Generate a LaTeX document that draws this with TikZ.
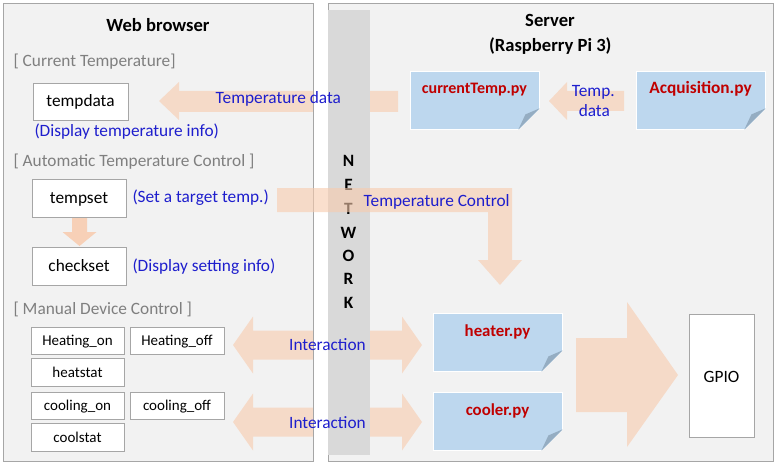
\documentclass[tikz,border=0pt]{standalone}
\usepackage{fontspec}
\setmainfont{Carlito}
\usetikzlibrary{calc}
\definecolor{panelbg}{HTML}{F2F2F2}
\definecolor{panelline}{HTML}{A6A6A6}
\definecolor{barc}{HTML}{D9D9D9}
\definecolor{peach}{HTML}{F8CBAD}
\definecolor{notec}{HTML}{BDD7EE}
\definecolor{foldc}{HTML}{95ADC2}
\definecolor{txtblue}{RGB}{30,30,205}
\definecolor{txtred}{HTML}{C00000}
\definecolor{txtgray}{HTML}{7F7F7F}
\definecolor{boxline}{HTML}{A6A6A6}
\newcommand\fsz[1]{\fontsize{#1}{#1}\selectfont}
\tikzset{
  titletxt/.style={font=\fsz{18.6}\bfseries, anchor=base, inner sep=0},
  sectiontxt/.style={font=\fsz{17.3}, text=txtgray, anchor=base west, inner sep=0},
  bluetxt/.style={font=\fsz{17.3}, text=txtblue, inner sep=0},
  wbox/.style={draw=boxline, fill=white, line width=0.8pt, inner sep=0, font=\fsz{17.3}, text height=12pt, text depth=2pt},
  sbox/.style={wbox, font=\fsz{15}, text height=11pt, text depth=1pt},
  notebox/.style={fill=notec, draw=white, line width=0.8pt, inner sep=0, minimum width=129pt, text height=23pt, text depth=35pt, font=\fsz{16.8}\bfseries, text=txtred},
  blockarrow/.style={fill=peach, fill opacity=0.6},
  netletter/.style={font=\fsz{17.3}\bfseries, anchor=base, inner sep=0},
  panel/.style={draw=panelline, line width=0.9pt},
}
\begin{document}
\begin{tikzpicture}[x=1pt,y=-1pt]
\useasboundingbox (0,0) rectangle (778,465);
\fill[white] (0,0) rectangle (778,465);
% panel backgrounds
\fill[panelbg] (3,3) rectangle (313,461);
\fill[panelbg] (328,3) rectangle (773,461);

% arrows under the network bar
\fill[blockarrow] (159,101) -- (179,82) -- (179,91) -- (398,91) -- (398,112) -- (179,112) -- (179,120) -- cycle;
\fill[blockarrow] (549,101) -- (567,82) -- (567,91) -- (624,91) -- (624,111) -- (567,111) -- (567,120) -- cycle;
\foreach \cy in {345,422}{
  \fill[blockarrow] (233,\cy) -- (253,\cy-28.5) -- (253,\cy-14.5) -- (402,\cy-14.5) -- (402,\cy-28.5)
     -- (422,\cy) -- (402,\cy+28.5) -- (402,\cy+14.5) -- (253,\cy+14.5) -- (253,\cy+28.5) -- cycle;
}
\fill[blockarrow] (576,338) -- (627,338) -- (627,302) -- (678,375) -- (627,447) -- (627,412) -- (576,412) -- cycle;
\fill[peach, fill opacity=0.85] (72,217) -- (87,217) -- (87,232) -- (96.5,232) -- (79.5,246) -- (62.5,232) -- (72,232) -- cycle;

% gap between panels and panel borders
\fill[white] (313.5,0) rectangle (327.5,465);
\draw[panel] (3,3) rectangle (313,461);
\draw[panel] (328,3) rectangle (773,461);
% network bar
\fill[barc] (328,10) rectangle (370,455);
\foreach \l/\y in {N/167,E/190,T/214,W/238,O/261,R/284,K/308}
  \node[netletter] (net\l) at (348.5,\y) {\l};

% temperature control bent arrow (over the bar)
\fill[blockarrow] (277,188) -- (512,188) -- (512,260) -- (522,260) -- (500,285) -- (478,260) -- (488,260) -- (488,212) -- (277,212) -- cycle;

% titles
\node[titletxt] (wbtitle) at (158,32) {Web browser};
\node[titletxt] (srvtitle) at (550,27) {Server};
\node[titletxt] (srvsub) at (550.3,52) {(Raspberry Pi 3)};

% section labels
\node[sectiontxt] (sec1) at (13.3,67) {[ Current Temperature]};
\node[sectiontxt] (sec2) at (13.3,167) {[ Automatic Temperature Control ]};
\node[sectiontxt] (sec3) at (13.3,314) {[ Manual Device Control ]};

% browser boxes
\node[wbox, minimum width=95pt, minimum height=37pt] (tempdata) at (80.5,101.5) {tempdata};
\node[bluetxt, anchor=base west] (dispinfo) at (34.3,137) {(Display temperature info)};
\node[wbox, minimum width=94pt, minimum height=38pt] (tempset) at (79,198) {tempset};
\node[bluetxt, anchor=base west] (setinfo) at (132.3,202) {(Set a target temp.)};
\node[wbox, minimum width=94pt, minimum height=38pt] (checkset) at (79,266) {checkset};
\node[bluetxt, anchor=base west] (dispset) at (132.3,271) {(Display setting info)};

\node[sbox, minimum width=93pt, minimum height=27pt] (heaton) at (77.5,340.5) {Heating\_on};
\node[sbox, minimum width=94pt, minimum height=27pt] (heatoff) at (177,340.5) {Heating\_off};
\node[sbox, minimum width=93pt, minimum height=28pt] (heatstat) at (77.5,372) {heatstat};
\node[sbox, minimum width=93pt, minimum height=27pt] (coolon) at (77.5,405.5) {cooling\_on};
\node[sbox, minimum width=94pt, minimum height=27pt] (cooloff) at (177,405.5) {cooling\_off};
\node[sbox, minimum width=93pt, minimum height=28pt] (coolstat) at (77.5,437) {coolstat};

% server notes
\node[notebox, font=\fsz{16}\bfseries] (ct) at (474.5,100) {currentTemp.py};
\node[notebox, font=\fsz{17.3}\bfseries] (acq) at (700.5,100) {Acquisition.py};
\node[notebox] (heat) at (497.5,342) {heater.py};
\node[notebox] (cool) at (497.5,421) {cooler.py};
\foreach \n in {ct,acq,heat,cool}{
  \fill[panelbg] ($(\n.south east)+(-21,0.6)$) -- ($(\n.south east)+(0.6,0.6)$) -- ($(\n.south east)+(0.6,-21)$) -- cycle;
  \fill[foldc] ($(\n.south east)+(-21,0)$) -- ($(\n.south east)+(0,-21)$) -- ($(\n.south east)+(-14,-15)$) -- cycle;
}
\node[wbox, minimum width=65pt, minimum height=123pt, text height=13pt, text depth=0pt] (gpio) at (721.5,375.5) {GPIO};

% arrow labels
\node[bluetxt, anchor=base] (lbltd) at (278.3,104) {Temperature data};
\node[bluetxt, anchor=base] (lbltemp) at (593.3,97) {Temp.};
\node[bluetxt, anchor=base] (lbldata) at (594.3,117) {data};
\node[bluetxt, anchor=base] (lbltc) at (436.7,206) {Temperature Control};
\node[bluetxt, anchor=base] (lblint1) at (327.5,350) {Interaction};
\node[bluetxt, anchor=base] (lblint2) at (327.5,428) {Interaction};
\end{tikzpicture}
\end{document}
